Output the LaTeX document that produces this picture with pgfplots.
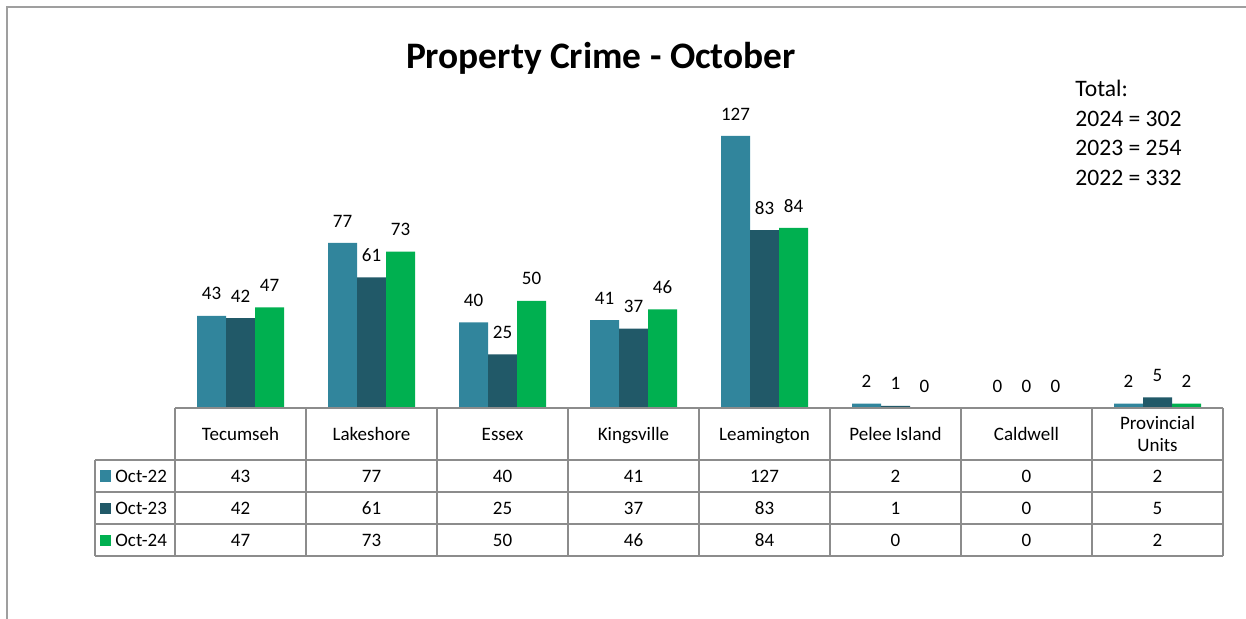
\documentclass[border=0pt]{standalone}
\usepackage{fontspec}
\setmainfont{Carlito}
\usepackage{pgfplots}
\pgfplotsset{compat=1.18}
\usepackage{pgfplotstable}

\definecolor{c22}{HTML}{31859C}
\definecolor{c23}{HTML}{215968}
\definecolor{c24}{HTML}{00B050}
\definecolor{tbl}{HTML}{8C8C8C}

% x: category index; a = Oct-22, b = Oct-23, c = Oct-24
\pgfplotstableread{
x a b c
0 43 42 47
1 77 61 73
2 40 25 50
3 41 37 46
4 127 83 84
5 2 1 0
6 0 0 0
7 2 5 2
}\data

\newcommand{\lbl}{\fontsize{9.5}{11}\selectfont}

\begin{document}
\begin{tikzpicture}
\begin{scope}[x=0.5pt,y=-0.5pt]
\useasboundingbox (0,0) rectangle (1246,619);
\draw[gray!75, line width=1pt] (7,619) -- (7,7) -- (1246,7);

\node[font=\bfseries\fontsize{18.7}{22}\selectfont] at (601,58) {Property Crime - October};
\begin{scope}[font=\fontsize{11.8}{14}\selectfont]
\node[anchor=base west, inner sep=0] at (1075,97) {Total:};
\node[anchor=base west, inner sep=0] at (1075,127) {2024 = 302};
\node[anchor=base west, inner sep=0] at (1075,156) {2023 = 254};
\node[anchor=base west, inner sep=0] at (1075,186) {2022 = 332};
\end{scope}
\end{scope}

\begin{axis}[
  at={(87.5pt,-204pt)}, anchor=south west,
  scale only axis, width=524pt, height=150pt,
  xmin=-0.5, xmax=7.5, ymin=0, ymax=140,
  axis line style={draw=none}, ytick=\empty,
  xtick={0,...,7}, major tick length=0pt,
  xticklabels={\strut Tecumseh,\strut Lakeshore,\strut Essex,\strut Kingsville,\strut Leamington,
    \strut Pelee Island,\strut Caldwell,{\strut Provincial\\\strut Units}},
  xticklabel style={font=\lbl, align=center, anchor=center, yshift=-14pt, inner sep=0pt},
  clip=false,
  /pgf/number format/assume math mode=true,
  nodes near coords style={font=\lbl, text=black, anchor=center},
]
\addplot[ybar, bar width=14.5pt, bar shift=-14.5pt, fill=c22, draw=none,
  nodes near coords, nodes near coords style={xshift=-14.5pt, yshift=11pt}] table[x=x,y=a] {\data};
\addplot[ybar, bar width=14.5pt, bar shift=0pt, fill=c23, draw=none,
  nodes near coords, nodes near coords style={yshift=11pt}] table[x=x,y=b] {\data};
\addplot[ybar, bar width=14.5pt, bar shift=14.5pt, fill=c24, draw=none,
  nodes near coords, nodes near coords style={xshift=14.5pt, yshift=11pt}] table[x=x,y=c] {\data};
% data table rows
\addplot[draw=none, mark=none, nodes near coords, point meta=explicit,
  nodes near coords style={yshift=-34pt}] table[x=x, y expr=0, meta=a] {\data};
\addplot[draw=none, mark=none, nodes near coords, point meta=explicit,
  nodes near coords style={yshift=-50pt}] table[x=x, y expr=0, meta=b] {\data};
\addplot[draw=none, mark=none, nodes near coords, point meta=explicit,
  nodes near coords style={yshift=-66pt}] table[x=x, y expr=0, meta=c] {\data};
\end{axis}

\begin{scope}[x=0.5pt,y=-0.5pt]
% table grid
\begin{scope}[draw=tbl, line width=1pt]
\draw (175,408) -- (1223,408);
\foreach \yy in {460,492,524,556} \draw (95,\yy) -- (1223,\yy);
\draw (95,460) -- (95,556);
\foreach \xx in {175,306,437,568,699,830,961,1092,1223} \draw (\xx,408) -- (\xx,556);
\end{scope}
% row keys
\foreach \yy/\cc/\tt in {476/c22/Oct-22,508/c23/Oct-23,540/c24/Oct-24}{
  \fill[\cc] (100,\yy-5.5) rectangle (111,\yy+5.5);
  \node[anchor=west, font=\lbl, inner sep=0] at (115,\yy) {\tt};
}
\end{scope}
\end{tikzpicture}
\end{document}
